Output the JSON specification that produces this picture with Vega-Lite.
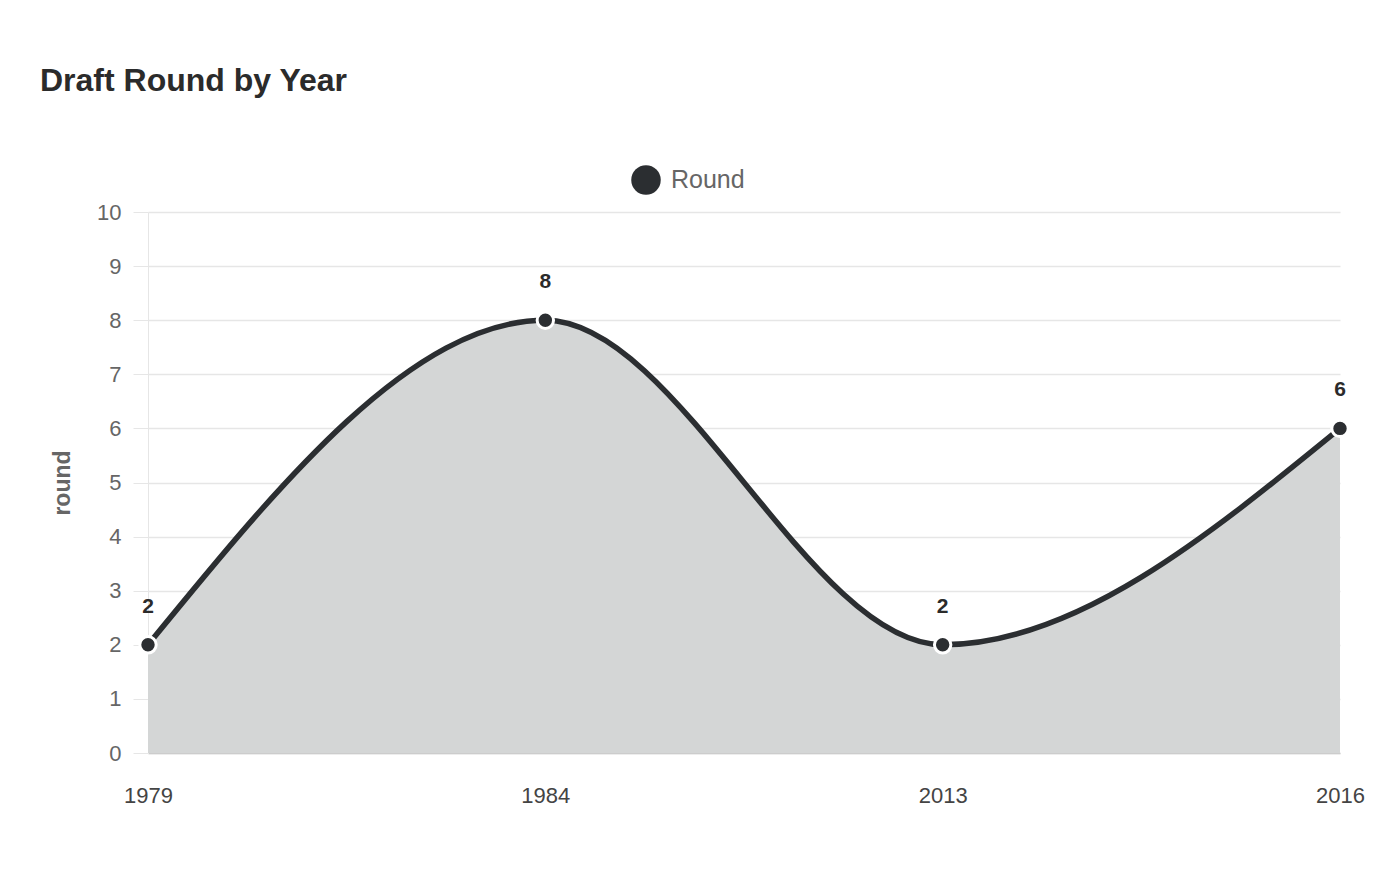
{
  "$schema": "https://vega.github.io/schema/vega-lite/v6.json",
  "width": 1192,
  "height": 541,
  "autosize": {"type": "none"},
  "padding": {"left": 148, "top": 212, "right": 60, "bottom": 127},
  "background": "white",
  "title": {
    "text": "Draft Round by Year",
    "anchor": "start",
    "frame": "group",
    "dx": -108,
    "offset": 67,
    "fontSize": 32,
    "fontWeight": "bold",
    "font": "Liberation Sans",
    "color": "#2b2b2b"
  },
  "config": {
    "font": "Liberation Sans",
    "view": {"stroke": null},
    "axis": {"labelFont": "Liberation Sans", "titleFont": "Liberation Sans"}
  },
  "data": {
    "values": [
      {"year": "1979", "round": 2, "series": "Round"},
      {"year": "1984", "round": 8, "series": "Round"},
      {"year": "2013", "round": 2, "series": "Round"},
      {"year": "2016", "round": 6, "series": "Round"}
    ]
  },
  "encoding": {
    "x": {
      "field": "year",
      "type": "ordinal",
      "scale": {"type": "point", "padding": 0},
      "axis": {
        "title": null,
        "labelAngle": 0,
        "labelFontSize": 22,
        "labelColor": "#444444",
        "labelPadding": 32,
        "ticks": false,
        "domainColor": "#cccccc",
        "domainWidth": 1.5,
        "grid": false
      }
    },
    "y": {
      "field": "round",
      "type": "quantitative",
      "scale": {"domain": [0, 10], "nice": false},
      "axis": {
        "title": "round",
        "titleFontSize": 23,
        "titleFontWeight": "bold",
        "titleColor": "#666666",
        "titlePadding": 22,
        "values": [0, 1, 2, 3, 4, 5, 6, 7, 8, 9, 10],
        "labelOverlap": false,
        "labelFontSize": 22,
        "labelColor": "#666666",
        "labelPadding": 12,
        "tickSize": 15,
        "tickColor": "#e6e6e6",
        "gridColor": "#e6e6e6",
        "gridWidth": 1.5,
        "domainColor": "#e6e6e6"
      }
    }
  },
  "layer": [
    {
      "mark": {"type": "area", "interpolate": "monotone", "color": "#d4d6d6", "opacity": 1}
    },
    {
      "mark": {"type": "line", "interpolate": "monotone", "strokeWidth": 5.5},
      "encoding": {
        "color": {
          "field": "series",
          "type": "nominal",
          "scale": {"range": ["#2b2e31"]},
          "legend": {
            "title": null,
            "orient": "none",
            "legendX": 483,
            "legendY": -47,
            "symbolType": "circle",
            "symbolSize": 870,
            "symbolFillColor": "#2b2e31",
            "symbolStrokeWidth": 0,
            "labelFontSize": 25,
            "labelColor": "#666666",
            "labelOffset": 10
          }
        }
      }
    },
    {
      "mark": {"type": "point", "filled": true, "size": 270, "color": "#2b2e31", "stroke": "white", "strokeWidth": 3, "opacity": 1}
    },
    {
      "mark": {"type": "text", "dy": -38, "fontSize": 21, "fontWeight": "bold", "color": "#2b2b2b"},
      "encoding": {"text": {"field": "round", "type": "quantitative"}}
    }
  ]
}
